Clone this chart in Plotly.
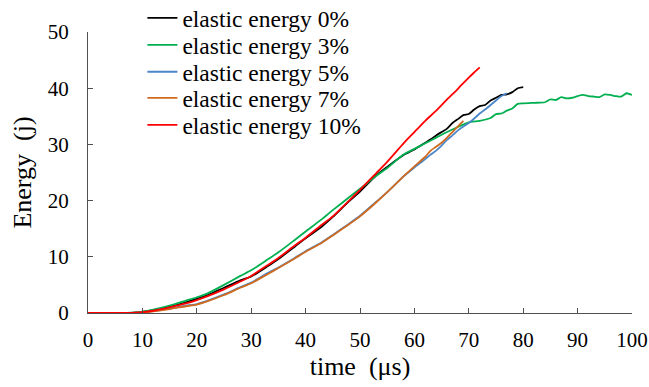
import plotly.graph_objects as go

# ---- data ----
t_e0 = [0,5,8,10,12,15,18,20,22,25,28,30,33,35,38,40,43,45,48,50,53,55,58,60,62,63,64,65,66,67,68,69,70,71,72,73,74,75,76,77,78,79,80]
e_e0 = [0,0,0.03,0.2,0.5,1.1,1.9,2.5,3.2,4.5,5.8,6.5,8.3,9.6,11.8,13.3,15.4,17.1,19.9,21.6,24.5,26.0,28.1,29.1,30.3,30.9,31.6,32.2,32.8,33.8,34.5,35.2,35.4,36.2,36.8,37.0,37.8,38.3,38.8,38.9,39.3,40.0,40.2]

t_e3 = [0,5,8,10,12,15,18,20,22,25,28,30,33,35,38,40,43,45,48,50,53,55,58,60,62,64,66,68,70,72,74,75,76,77,78,79,80,82,84,85,86,87,88,89,90,91,92,93,94,95,96,97,98,99,100]
e_e3 = [0,0,0.05,0.25,0.6,1.3,2.2,2.8,3.5,5.0,6.6,7.6,9.5,10.8,13.0,14.5,16.7,18.3,20.6,22.1,24.4,25.8,28.2,29.2,30.2,31.2,32.2,33.1,33.9,34.2,34.7,35.4,35.5,36.0,36.4,37.2,37.3,37.4,37.5,38.0,37.9,38.4,38.2,38.3,38.6,38.8,38.6,38.5,38.4,38.9,38.8,38.6,38.5,39.1,38.8]

t_e5 = [0,5,8,10,12,15,18,20,22,25,28,30,33,35,38,40,43,45,48,50,53,55,58,60,62,63,64,65,66,67,68,69,70,71,72,73,74,75,76,77]
e_e5 = [0,0,0.02,0.12,0.35,0.8,1.3,1.6,2.2,3.3,4.6,5.4,7.1,8.1,9.8,11.0,12.6,13.9,15.9,17.3,19.8,21.5,24.3,25.9,27.4,28.2,28.9,29.8,30.8,31.6,32.5,33.2,33.8,34.6,35.5,36.2,37.0,37.8,38.6,39.1]

t_e7 = [0,5,8,10,12,15,18,20,22,25,28,30,33,35,38,40,43,45,48,50,53,55,58,60,62,63,64,65,66,67,68,69]
e_e7 = [0,0,0.02,0.1,0.3,0.7,1.2,1.5,2.1,3.2,4.5,5.3,6.9,8.0,9.7,10.9,12.5,13.8,15.8,17.2,19.7,21.5,24.3,26.1,27.8,28.9,29.6,30.3,31.2,32.2,33.2,34.2]

t_e10 = [0,5,8,10,12,15,18,20,22,25,28,30,33,35,38,40,43,45,48,50,53,55,58,60,62,64,66,68,70,71,72]
e_e10 = [0,0,0.02,0.15,0.4,1.0,1.7,2.3,3.0,4.2,5.6,6.6,8.5,9.8,12.0,13.4,15.7,17.2,20.0,21.9,24.9,26.9,30.2,32.2,34.2,36.0,38.0,39.9,41.9,42.8,43.7]

names = ["elastic energy 0%", "elastic energy 3%", "elastic energy 5%",
         "elastic energy 7%", "elastic energy 10%"]
colors = ["#000000", "#00b050", "#4a86c8", "#d06a1e", "#ff0000"]
xs = [t_e0, t_e3, t_e5, t_e7, t_e10]
ys = [e_e0, e_e3, e_e5, e_e7, e_e10]

x_ticks = [0, 10, 20, 30, 40, 50, 60, 70, 80, 90, 100]
y_ticks = [0, 10, 20, 30, 40, 50]

FONT = "Liberation Serif"

fig = go.Figure()
legend_ids = ["legend", "legend2", "legend3", "legend4", "legend5"]
for n, c, x, y, lg in zip(names, colors, xs, ys, legend_ids):
    fig.add_trace(go.Scatter(x=x, y=y, name=n, mode="lines", legend=lg,
                             line=dict(color=c, width=1.8, shape="spline", smoothing=0.6)))

# one single-item legend per row so the rows sit as tightly as in the reference
row_y = [1.0498, 0.9537, 0.8577, 0.7651, 0.6690]
leg_common = dict(x=0.100, xanchor="left", yanchor="middle", bgcolor="rgba(0,0,0,0)",
                  borderwidth=0, font=dict(family=FONT, size=23.5, color="#000000"),
                  itemwidth=30)
layout_legends = {lg: dict(y=ry, **leg_common) for lg, ry in zip(legend_ids, row_y)}

fig.update_layout(
    width=649, height=387,
    margin=dict(l=88, r=17, t=32, b=74, autoexpand=False),
    paper_bgcolor="white", plot_bgcolor="white",
    font=dict(family=FONT, size=21, color="#000000"),
    showlegend=True,
    **layout_legends,
    xaxis=dict(range=[0, 100], tickvals=x_ticks, ticks="inside", ticklen=5,
               tickcolor="#505050", showline=True, linecolor="#505050", linewidth=1,
               showgrid=False, zeroline=False, ticklabelstandoff=8,
               tickfont=dict(family=FONT, size=21),
               title=dict(text="time\u00a0 (\u03bcs)", font=dict(family=FONT, size=26), standoff=0)),
    yaxis=dict(range=[0, 50], tickvals=y_ticks, ticks="inside", ticklen=5,
               tickcolor="#505050", showline=True, linecolor="#505050", linewidth=1,
               showgrid=False, zeroline=False, ticklabelstandoff=14,
               tickfont=dict(family=FONT, size=21),
               title=dict(text="Energy\u00a0 (j)", font=dict(family=FONT, size=26), standoff=8)),
)

fig.write_html("out.html")
